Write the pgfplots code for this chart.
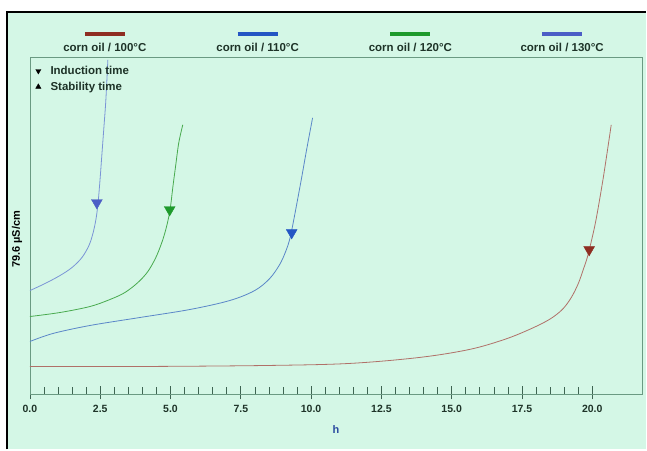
\documentclass[border=0pt]{standalone}
\usepackage{pgfplots}
\pgfplotsset{compat=1.18}
\usepackage{fontspec}
\setmainfont{Liberation Sans}
\definecolor{bg}{HTML}{D4F7E6}
\definecolor{framec}{HTML}{6A9A82}
\definecolor{tickc}{HTML}{3E6452}
\definecolor{labc}{HTML}{1E3328}
\definecolor{hblue}{HTML}{2A4AA0}
\definecolor{cA}{HTML}{8E2E22}
\definecolor{cB}{HTML}{2456C4}
\definecolor{cC}{HTML}{1E9A2C}
\definecolor{cD}{HTML}{4C5EC6}
\definecolor{lA}{HTML}{B07068}
\definecolor{lB}{HTML}{5A86C8}
\definecolor{lC}{HTML}{48AA4E}
\definecolor{lD}{HTML}{7A94D6}
\begin{document}
\begin{tikzpicture}[x=1pt,y=1pt]
\fill[white] (0,0) rectangle (647,450);
\fill[bg] (7,0) rectangle (647,438);
\draw[black,line width=2pt] (7,0) -- (7,438) -- (647,438);
\begin{axis}[
  at={(30pt,55pt)}, anchor=south west,
  scale only axis, width=613pt, height=338pt,
  xmin=0, xmax=21.77, ymin=55, ymax=393,
  axis line style={draw=framec, line width=0.8pt},
  xtick={0,2.5,...,20}, minor x tick num=4, ytick=\empty,
  xtick pos=left, tick align=inside,
  major tick length=13pt, minor tick length=7pt,
  major tick style={color=tickc, line width=0.7pt, yshift=-5pt},
  minor tick style={color=tickc, line width=0.6pt},
  xticklabel style={font=\bfseries\fontsize{10.5}{11}\selectfont, text=labc, yshift=-7pt},
  /pgf/number format/fixed, /pgf/number format/fixed zerofill,
  /pgf/number format/precision=1, /pgf/number format/assume math mode=true,
  xlabel={h},
  xlabel style={at={(axis description cs:0.5,0)}, anchor=center, yshift=-35pt,
    text=hblue, font=\bfseries\fontsize{11}{12}\selectfont},
  ylabel={79.6 µS/cm},
  ylabel style={at={(axis description cs:0,0.459)}, anchor=center, yshift=13pt,
    text=black, font=\bfseries\fontsize{11}{12}\selectfont},
  legend style={at={(axis description cs:0,1)}, anchor=north west, xshift=2pt, yshift=-5pt,
    draw=none, fill=none, font=\bfseries\fontsize{11.5}{12}\selectfont, row sep=2pt,
    text=labc},
  legend cell align=left,
]
\addlegendimage{legend image code/.code={
  \draw[black, mark=triangle*, mark size=3pt, mark options={rotate=180, fill=black}] plot coordinates {(0pt,0pt)};
  \path (-3pt,0pt) (10pt,0pt);}}
\addlegendentry{Induction time}
\addlegendimage{legend image code/.code={
  \draw[black, mark=triangle*, mark size=3pt, mark options={fill=black}] plot coordinates {(0pt,0pt)};
  \path (-3pt,0pt) (10pt,0pt);}}
\addlegendentry{Stability time}

% corn oil / 100C
\addplot[lA, line width=0.8pt, smooth, tension=0.55, forget plot] coordinates {
(0,83) (4.263,83) (8.526,84) (11.368,86) (13.854,92) (15.631,100) (16.874,110)
(17.762,120) (18.472,130) (18.934,140) (19.254,152) (19.503,166) (19.680,180)
(19.822,192) (19.964,208) (20.107,226) (20.249,248) (20.426,278) (20.675,325)};
% corn oil / 110C
\addplot[lB, line width=0.8pt, smooth, tension=0.55, forget plot] coordinates {
(0,108) (0.817,116) (2.131,124) (3.908,132) (5.684,140) (7.105,149) (7.993,159)
(8.526,171) (8.881,185) (9.094,198) (9.236,210) (9.343,224) (9.485,245)
(9.663,272) (9.840,300) (10.053,332)};
% corn oil / 120C
\addplot[lC, line width=0.8pt, smooth, tension=0.55, forget plot] coordinates {
(0,133) (1.066,137) (2.131,143) (2.842,150) (3.375,157) (3.837,167) (4.192,178)
(4.476,192) (4.689,207) (4.831,220) (4.938,233) (5.009,245) (5.080,262)
(5.187,285) (5.293,307) (5.435,325)};
% corn oil / 130C
\addplot[lD, line width=0.8pt, smooth, tension=0.55, forget plot] coordinates {
(0,159) (0.533,166) (1.066,174) (1.492,182) (1.847,192) (2.096,204) (2.238,216)
(2.345,230) (2.416,245) (2.487,268) (2.558,295) (2.629,322) (2.700,350) (2.771,390)};

% induction time markers
\addplot[only marks, mark=triangle*, mark size=6.3pt, mark options={rotate=180, fill=cA, draw=cA}, forget plot]
  coordinates {(19.89,200)};
\addplot[only marks, mark=triangle*, mark size=6.3pt, mark options={rotate=180, fill=cB, draw=cB}, forget plot]
  coordinates {(9.31,217)};
\addplot[only marks, mark=triangle*, mark size=6.3pt, mark options={rotate=180, fill=cC, draw=cC}, forget plot]
  coordinates {(4.97,240)};
\addplot[only marks, mark=triangle*, mark size=6.3pt, mark options={rotate=180, fill=cD, draw=cD}, forget plot]
  coordinates {(2.38,247)};
\end{axis}
% top legend
\foreach \cx/\col/\t in {105/cA/100, 258/cB/110, 411/cC/120, 563/cD/130}{
  \draw[\col, line width=4pt] (\cx-20,416) -- (\cx+20,416);
  \node[font=\bfseries\fontsize{11.5}{12}\selectfont, text=labc] at (\cx,402) {corn oil / \t°C};
}
\end{tikzpicture}
\end{document}
